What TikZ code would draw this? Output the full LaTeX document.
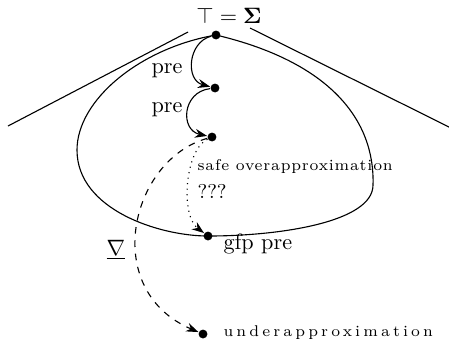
\documentclass[tikz,border=0pt]{standalone}
\usepackage{amsmath}
\usepackage{fontspec}
\setmainfont{Latin Modern Roman}
\usetikzlibrary{arrows.meta}
\tikzset{
  dot/.style={circle,fill=black,inner sep=0pt,minimum size=4pt},
  lbl/.style={inner sep=0pt,anchor=west},
  arr/.style={-{Stealth[length=5.5pt,width=4pt]}},
  smallsafe/.style={font=\scriptsize\addfontfeature{LetterSpace=5}},
  smallund/.style={font=\scriptsize\addfontfeature{LetterSpace=20}}
}
\begin{document}
\begin{tikzpicture}[x=0.45pt,y=-0.45pt,line width=0.5pt]
\useasboundingbox (0,0) rectangle (449,341);
% nodes
\node[dot] (top) at (216,35) {};
\node[dot] (p1) at (215,88) {};
\node[dot] (p2) at (212,137) {};
\node[dot] (gfp) at (208,236) {};
\node[dot] (und) at (203,334) {};
% labels
\node (toplbl) at (229,16) {$\top = \boldsymbol{\Sigma}$};
\node (pre1) at (167,71) {pre};
\node (pre2) at (167,110) {pre};
\node[lbl,smallsafe] (safe) at (197,167) {safe overapproximation};
\node[lbl,font=\small] (q) at (197,191) {???};
\node[lbl] (gfpl) at (223,244) {gfp pre};
\node[lbl,smallund] (undl) at (223,333) {underapproximation};
\node (nab) at (116,250) {$\underline{\nabla}$};
% lattice lines
\draw (8,126) -- (188,32);
\draw (250,28) -- (449,127);
% closed curve
\draw (top.center) .. controls (140,48) and (77,100) .. (77,150)
  .. controls (77,210) and (160,236) .. (gfp.center)
  .. controls (280,236) and (373,222) .. (373,185)
  .. controls (375,120) and (330,62) .. (top.center);
% arrows
\draw[arr] (top) .. controls (188,42) and (185,80) .. (p1);
\draw[arr] (p1) .. controls (182,92) and (180,130) .. (p2);
\draw[arr,dotted] (p2) .. controls (185,150) and (180,215) .. (gfp);
\draw[arr,dashed] (p2) .. controls (130,160) and (100,290) .. (und);
\end{tikzpicture}
\end{document}
